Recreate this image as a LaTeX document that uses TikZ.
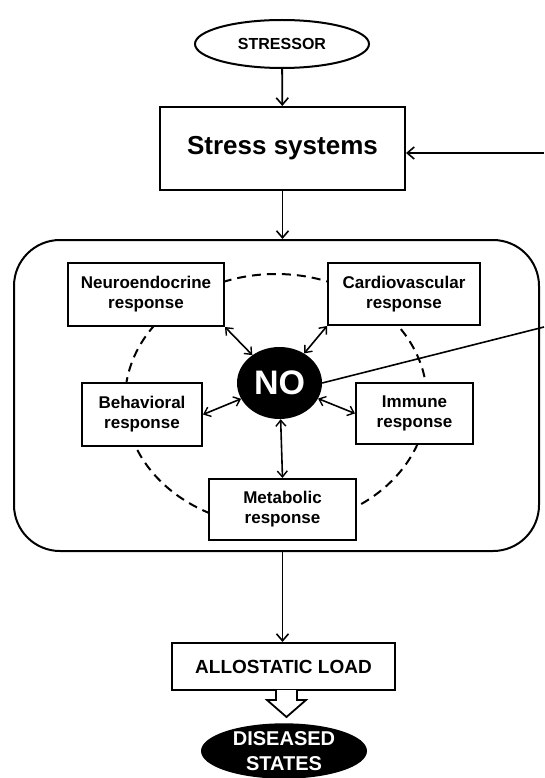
\documentclass[tikz,border=0pt]{standalone}
\usepackage{fontspec}
\setmainfont{Liberation Sans}
\usetikzlibrary{shapes.geometric,arrows.meta,calc}
\begin{document}
\begin{tikzpicture}[x=1pt,y=-1pt,
 box/.style={draw,line width=2pt,fill=white,font=\bfseries\fontsize{17}{20}\selectfont,align=center,inner sep=0pt},
 arr/.style={line width=1.8pt,-{Straight Barb[length=7pt,width=12pt,line width=1.6pt]}},
 darr/.style={line width=1.6pt,{Straight Barb[length=6pt,width=10pt,line width=1.4pt]}-{Straight Barb[length=6pt,width=10pt,line width=1.4pt]}},
 dash circle/.style={line width=2pt,dash pattern=on 9pt off 6pt},
]
\useasboundingbox (0,0) rectangle (544,778);
% top
\node[draw, ellipse, line width=2pt, minimum width=174pt, minimum height=48pt, inner sep=0pt,
  font=\bfseries\fontsize{16}{19}\selectfont] (stressor) at (282,44) {STRESSOR};
\node[box, minimum width=245pt, minimum height=83pt, font=\bfseries\fontsize{26}{30}\selectfont] (stress) at (282.5,148.5) {Stress systems};
\node[draw, rounded corners=46pt, line width=2pt, minimum width=525pt, minimum height=311pt] (bigbox) at (276.5,395.5) {};
\coordinate (fb) at (544,153);
\draw[arr] (stressor) -- (stress);
\draw[arr] (fb) -- (fb -| stress.east);
\draw[arr] (stress.south) -- (stress.south |- bigbox.north);
% dashed ring
\draw[dash circle] (276,400) ellipse [x radius=151, y radius=126];
% response boxes
\node[box, minimum width=156pt, minimum height=63pt] (neuro) at (146,294.5) {Neuroendocrine\\response};
\node[box, minimum width=152pt, minimum height=62pt] (cardio) at (404,294) {Cardiovascular\\response};
\node[box, minimum width=120pt, minimum height=63pt] (behav) at (142,414.5) {Behavioral\\response};
\node[box, minimum width=117pt, minimum height=61pt] (immune) at (414.5,413.5) {Immune\\response};
\node[box, minimum width=147pt, minimum height=61pt] (metab) at (282.5,509.5) {Metabolic\\response};
% NO
\node[ellipse, fill=black, minimum width=85pt, minimum height=72pt, inner sep=0pt,
  text=white, font=\bfseries\fontsize{34}{38}\selectfont] (no) at (279.5,383) {NO};
\coordinate (nofree) at (544,327);
\draw[line width=1.6pt] (no.east) -- (nofree);
\draw[darr] (no) -- (neuro.south east);
\draw[darr] (no) -- (cardio.south west);
\draw[darr] (no) -- (behav.east);
\draw[darr] (no) -- (immune.west);
\draw[darr] (no) -- (metab.north);
% bottom
\node[box, minimum width=223pt, minimum height=47pt, font=\bfseries\fontsize{19}{22}\selectfont] (allo) at (283.5,666.5) {ALLOSTATIC LOAD};
\draw[arr] (bigbox.south -| stress.south) -- (stress.south |- allo.north);
\coordinate (ha) at (286.5,690);
\draw[line width=1.8pt, fill=white, line join=miter]
  ($(ha)+(-10.5,0)$) -- ($(ha)+(-10.5,10)$) -- ($(ha)+(-19.5,10)$) -- ($(ha)+(0,27)$)
  -- ($(ha)+(19.5,10)$) -- ($(ha)+(10.5,10)$) -- ($(ha)+(10.5,0)$);
\node[ellipse, fill=black, minimum width=166pt, minimum height=52pt, inner sep=0pt, align=center,
  text=white, font=\bfseries\fontsize{20}{25}\selectfont] (dis) at (284,751) {DISEASED\\STATES};
\end{tikzpicture}
\end{document}
